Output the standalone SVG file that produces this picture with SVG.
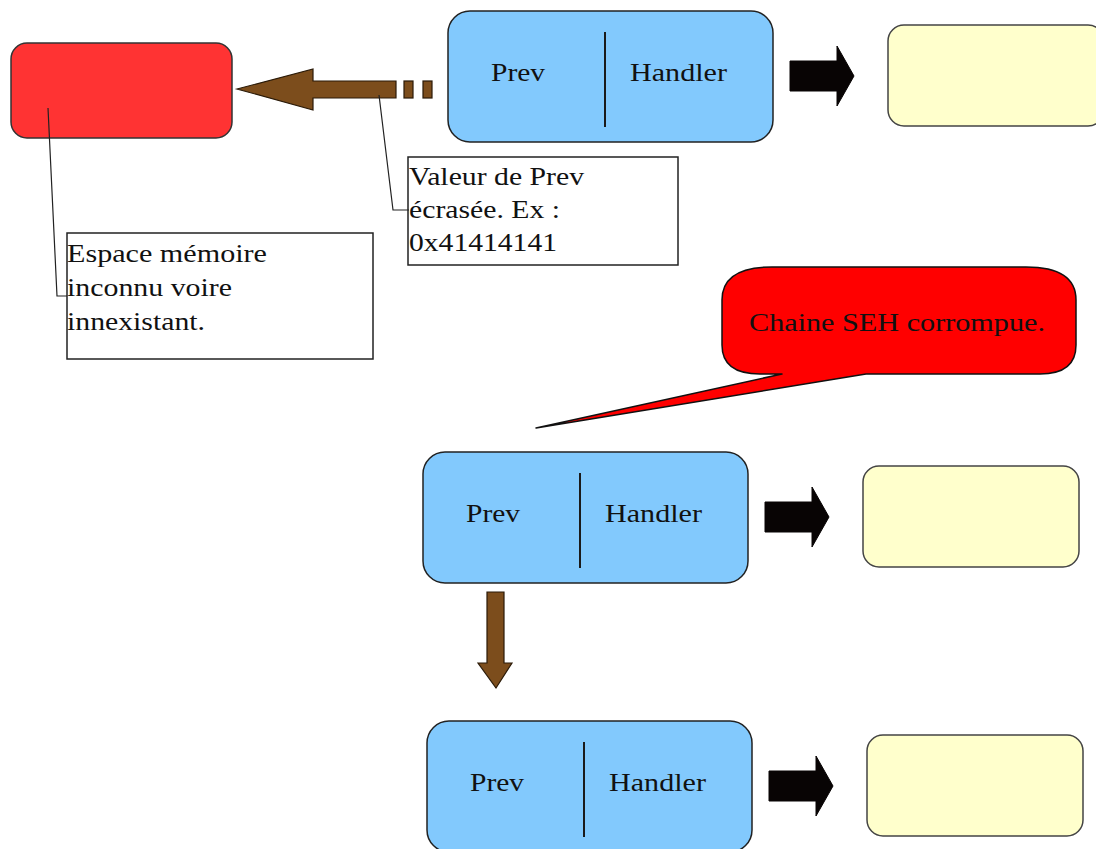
<svg xmlns="http://www.w3.org/2000/svg" width="1096" height="849" viewBox="0 0 1096 849">
  <defs>
    <style>
      .rec { fill: #82c9fd; stroke: #222; stroke-width: 1.5; }
      .div { stroke: #1a1a1a; stroke-width: 2; }
      .hnd { fill: #ffffcc; stroke: #444; stroke-width: 1.5; }
      .blk { fill: #080404; stroke: #080404; stroke-width: 1; }
      .brn { fill: #7c4d1c; stroke: #2a1a08; stroke-width: 1.2; }
      .lbl { font-family: "Liberation Serif", "Times New Roman", serif; font-size: 25px; fill: #111; }
      .note { fill: #fff; stroke: #222; stroke-width: 1.5; }
      .lead { fill: none; stroke: #222; stroke-width: 1.2; }
    </style>
    <!-- one SEH record: Prev | Handler box, pointer arrow, handler block -->
    <g id="seh">
      <rect class="rec" x="0" y="0" width="325" height="131" rx="22" ry="22"/>
      <line class="div" x1="157" y1="21" x2="157" y2="116"/>
      <text class="lbl" x="43" y="70" textLength="54" lengthAdjust="spacingAndGlyphs">Prev</text>
      <text class="lbl" x="182" y="70" textLength="97" lengthAdjust="spacingAndGlyphs">Handler</text>
      <polygon class="blk" points="342,50 389,50 389,35 406,65 389,95 389,80 342,80"/>
      <rect class="hnd" x="440" y="14" width="216" height="101" rx="16" ry="16"/>
    </g>
  </defs>

  <rect width="1096" height="849" fill="#fff"/>

  <!-- unknown memory target -->
  <g id="unknown">
    <rect x="11" y="43" width="221" height="95" rx="16" ry="16" fill="#ff3333" stroke="#333" stroke-width="1.5"/>
  </g>

  <!-- SEH records -->
  <g id="record-top">
    <use href="#seh" x="448" y="11"/>
  </g>
  <g id="record-mid">
    <use href="#seh" x="423" y="452"/>
  </g>
  <g id="record-bottom">
    <use href="#seh" x="427" y="721"/>
  </g>

  <!-- notes -->
  <g id="note-prev">
    <rect class="note" x="408" y="157" width="270" height="108"/>
    <text class="lbl" x="409" y="185" textLength="175" lengthAdjust="spacingAndGlyphs">Valeur de Prev</text>
    <text class="lbl" x="409" y="218" textLength="151" lengthAdjust="spacingAndGlyphs">écrasée. Ex :</text>
    <text class="lbl" x="409" y="251" textLength="148" lengthAdjust="spacingAndGlyphs">0x41414141</text>
  </g>
  <g id="note-memory">
    <rect class="note" x="67" y="233" width="306" height="126"/>
    <text class="lbl" x="67" y="262" textLength="200" lengthAdjust="spacingAndGlyphs">Espace mémoire</text>
    <text class="lbl" x="67" y="296" textLength="165" lengthAdjust="spacingAndGlyphs">inconnu voire</text>
    <text class="lbl" x="67" y="330" textLength="138" lengthAdjust="spacingAndGlyphs">innexistant.</text>
  </g>

  <!-- speech bubble -->
  <g id="bubble">
    <path d="M772,267 L1026,267 Q1076,267 1076,300 L1076,345 Q1076,374 1040,374 L866,374 L536,428 L782,374 L760,374 Q722,374 722,345 L722,300 Q722,267 772,267 Z" fill="#ff0000" stroke="#111" stroke-width="1.5" stroke-linejoin="round"/>
    <text class="lbl" x="749" y="331" textLength="296" lengthAdjust="spacingAndGlyphs">Chaine SEH corrompue.</text>
  </g>

  <!-- connectors -->
  <g id="connectors">
    <!-- overwritten Prev pointer into unknown memory -->
    <polygon class="brn" points="237,89 313,69 313,81 396,81 396,98 313,98 313,110"/>
    <rect class="brn" x="404" y="81" width="9" height="17"/>
    <rect class="brn" x="423" y="81" width="9" height="17"/>
    <!-- Prev link between records -->
    <polygon class="brn" points="487,592 504,592 504,663 512,663 496,688 478,663 487,663"/>
    <!-- note leaders -->
    <polyline class="lead" points="379,95 393,210 409,210"/>
    <polyline class="lead" points="48,108 57,296 67,296"/>
  </g>
</svg>
